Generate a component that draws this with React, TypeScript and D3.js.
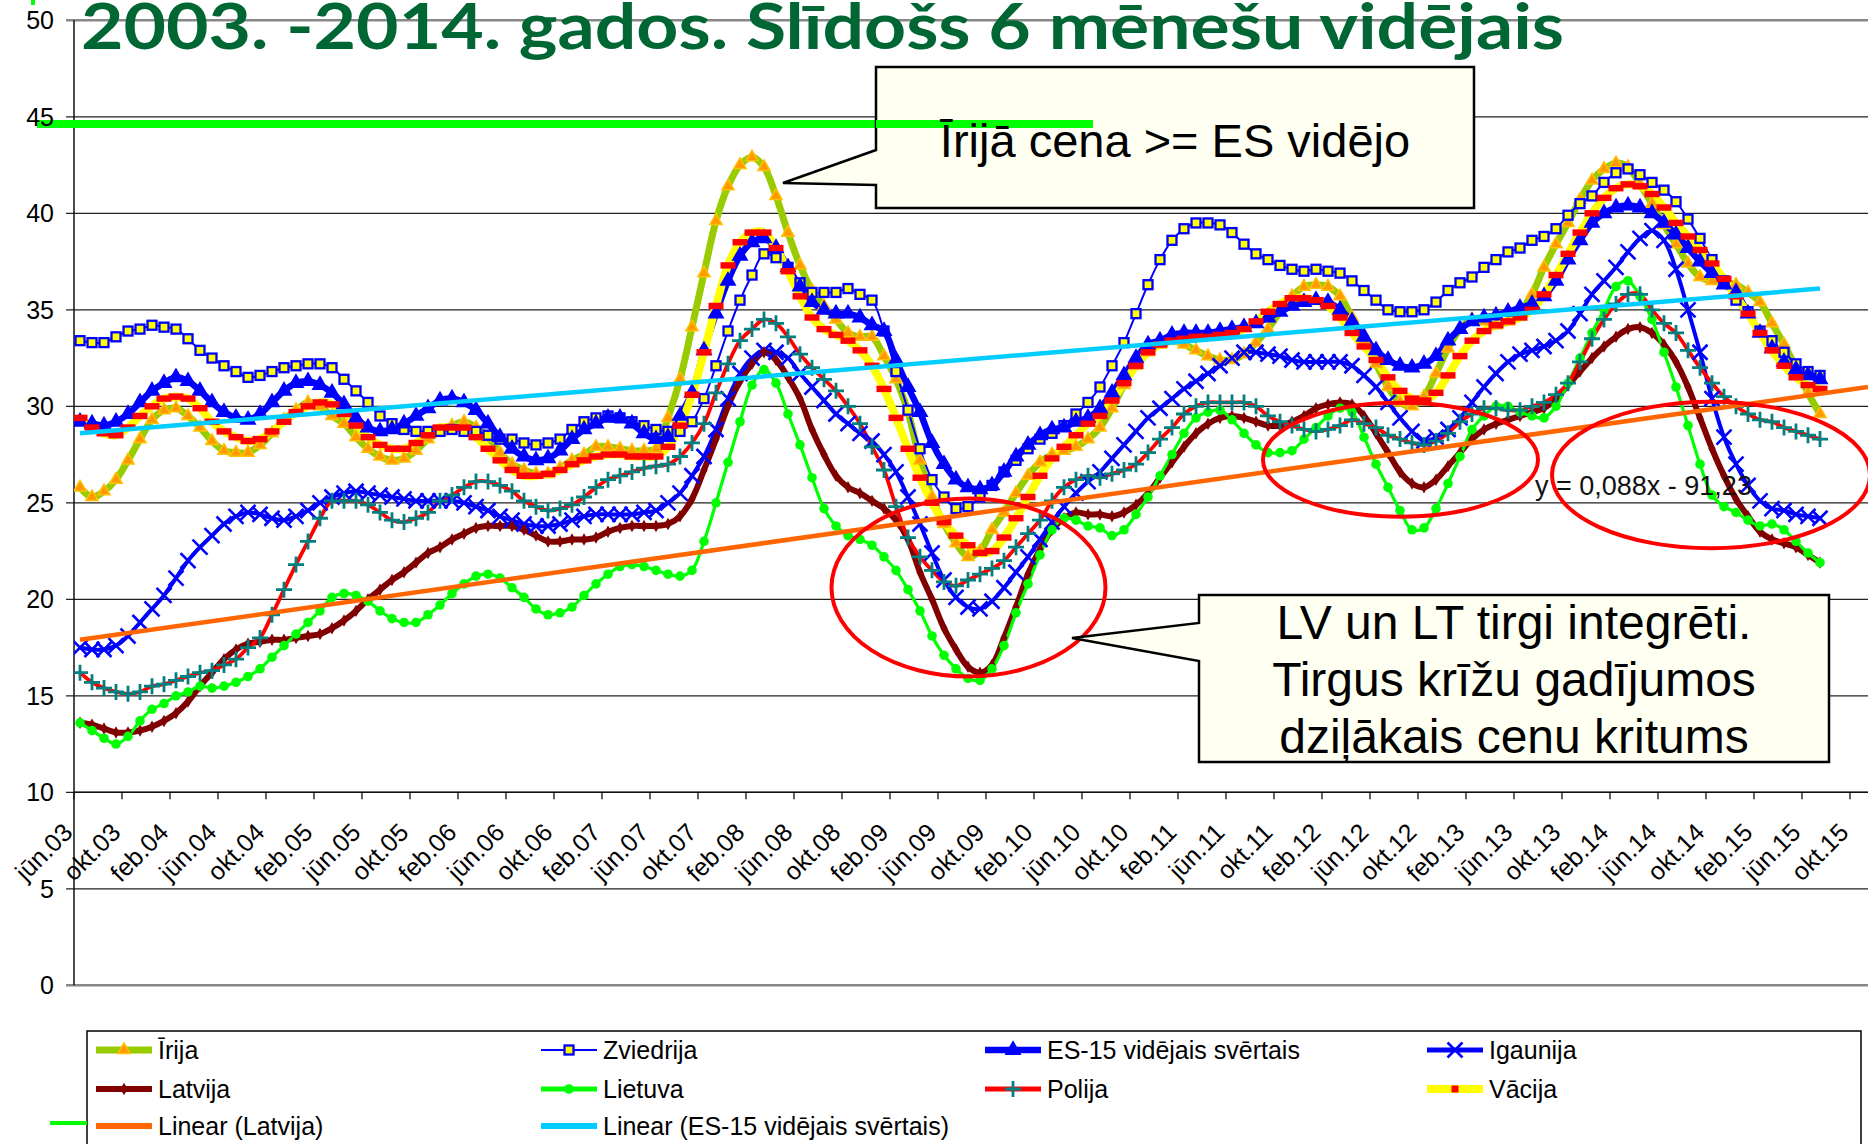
import React from 'react';
import * as d3 from 'd3';

// ---------- DATA ----------
const tickLabels = ['jūn.03','okt.03','feb.04','jūn.04','okt.04','feb.05','jūn.05','okt.05','feb.06','jūn.06','okt.06','feb.07','jūn.07','okt.07','feb.08','jūn.08','okt.08','feb.09','jūn.09','okt.09','feb.10','jūn.10','okt.10','feb.11','jūn.11','okt.11','feb.12','jūn.12','okt.12','feb.13','jūn.13','okt.13','feb.14','jūn.14','okt.14','feb.15','jūn.15','okt.15'];
const yTicks = [0, 5, 10, 15, 20, 25, 30, 35, 40, 45, 50];

const irija = [
  25.8,25.3,25.6,26.2,27.2,28.3,29.3,29.8,29.9,29.5,
  28.9,28.2,27.7,27.6,27.6,28.0,28.6,29.3,29.8,30.2,
  30.0,29.5,29.1,28.4,27.8,27.4,27.2,27.3,27.7,28.3,
  28.7,29.0,29.2,28.9,28.4,27.6,27.0,26.7,26.5,26.5,
  26.8,27.2,27.5,27.9,27.9,27.8,27.7,27.7,27.8,29.4,
  31.4,34.1,36.9,39.6,41.4,42.5,42.9,42.4,40.9,39.0,
  37.3,36.0,35.2,34.5,33.8,33.6,33.6,32.6,31.4,29.7,
  27.2,25.3,23.9,22.9,22.2,22.5,23.6,24.5,25.5,26.4,
  27.1,27.5,27.7,27.9,28.3,28.9,29.9,31.1,32.1,32.8,
  33.2,33.4,33.2,32.9,32.6,32.4,32.4,32.7,33.3,34.0,
  34.9,35.7,36.2,36.3,36.2,35.7,34.6,33.4,32.2,31.0,
  30.2,30.0,30.5,31.7,33.0,34.0,34.5,34.4,34.2,34.4,
  34.9,35.8,37.2,38.4,39.5,40.7,41.7,42.3,42.6,42.4,
  41.5,40.5,39.4,38.4,37.4,36.7,36.5,36.4,36.3,35.9,
  35.4,34.3,33.2,32.0,30.7,29.6
];
const zviedrija = [
  33.4,33.3,33.3,33.6,33.9,34.0,34.2,34.1,34.0,33.5,
  32.9,32.5,32.1,31.8,31.5,31.6,31.8,32.0,32.1,32.2,
  32.2,32.0,31.4,30.8,30.2,29.5,29.1,28.8,28.7,28.7,
  28.7,28.8,28.7,28.7,28.5,28.3,28.3,28.1,28.0,28.1,
  28.3,28.8,29.2,29.4,29.5,29.4,29.2,29.0,28.8,28.7,
  28.7,29.2,30.4,32.1,33.9,35.5,36.8,37.9,37.7,37.2,
  36.4,35.9,35.9,35.9,36.1,35.8,35.5,33.9,31.8,29.8,
  27.8,26.2,25.3,24.7,24.8,25.3,25.9,26.6,27.2,27.8,
  28.3,28.6,29.0,29.6,30.2,31.0,32.1,33.3,34.8,36.3,
  37.6,38.6,39.2,39.5,39.5,39.4,39.0,38.4,37.9,37.6,
  37.3,37.1,37.0,37.1,37.0,36.9,36.5,36.0,35.5,35.0,
  34.9,34.9,35.0,35.4,36.0,36.4,36.7,37.2,37.6,38.0,
  38.2,38.6,38.8,39.2,39.9,40.5,40.9,41.6,42.1,42.3,
  42.0,41.6,41.2,40.6,39.7,38.7,37.6,36.5,35.5,34.9,
  33.9,33.4,32.8,32.2,31.8,31.6
];
const es15 = [
  29.2,29.1,29.0,29.2,29.6,30.2,30.8,31.2,31.5,31.3,
  30.8,30.2,29.7,29.4,29.3,29.6,30.2,30.8,31.2,31.3,
  31.1,30.7,30.1,29.4,28.9,28.7,28.8,29.1,29.5,29.9,
  30.3,30.4,30.2,29.8,29.1,28.4,27.8,27.4,27.2,27.3,
  27.7,28.3,28.8,29.1,29.4,29.4,29.1,28.6,28.3,28.4,
  29.5,30.7,32.9,34.8,36.5,37.8,38.5,38.7,38.2,37.2,
  36.2,35.4,35.0,34.8,34.8,34.6,34.2,33.9,32.4,31.0,
  29.7,28.1,27.0,26.2,25.8,25.7,25.9,26.6,27.4,28.0,
  28.5,28.8,28.9,29.2,29.4,29.9,30.7,31.6,32.5,33.2,
  33.4,33.7,33.8,33.8,33.8,33.9,34.0,34.1,34.3,34.6,
  34.9,35.2,35.4,35.5,35.4,35.0,34.4,33.6,32.9,32.4,
  32.1,32.0,32.2,32.6,33.4,34.0,34.4,34.6,34.7,34.9,
  35.1,35.3,35.7,36.5,37.6,38.6,39.5,40.0,40.3,40.4,
  40.3,40.0,39.5,38.9,38.2,37.5,36.9,36.3,35.9,34.8,
  33.8,33.0,32.3,31.9,31.6,31.4
];
const igaunija = [
  17.5,17.4,17.4,17.6,18.1,18.8,19.5,20.2,21.1,22.0,
  22.7,23.3,23.9,24.3,24.5,24.4,24.2,24.1,24.3,24.6,
  25.0,25.3,25.5,25.6,25.5,25.4,25.3,25.2,25.1,25.1,
  25.1,25.1,25.0,24.8,24.6,24.3,24.1,23.9,23.8,23.8,
  23.9,24.1,24.3,24.4,24.4,24.4,24.4,24.5,24.6,25.0,
  25.5,26.4,27.4,28.8,30.4,31.7,32.5,32.9,32.8,32.5,
  31.7,31.0,30.3,29.6,29.1,28.6,28.2,27.5,26.6,25.3,
  23.9,22.4,21.0,20.1,19.6,19.5,19.9,20.6,21.4,22.2,
  23.1,24.0,24.8,25.5,26.1,26.6,27.3,28.0,28.7,29.4,
  29.9,30.4,30.9,31.3,31.7,32.1,32.5,32.8,32.8,32.7,
  32.6,32.4,32.3,32.3,32.3,32.3,32.1,31.6,31.0,30.2,
  29.4,28.7,28.2,28.4,28.8,29.4,30.2,31.0,31.7,32.3,
  32.7,32.9,33.1,33.4,33.9,34.8,35.8,36.5,37.2,38.0,
  38.7,39.1,38.6,37.1,35.0,32.8,30.4,28.4,27.0,25.9,
  25.1,24.7,24.6,24.4,24.3,24.2
];
const latvija = [
  13.6,13.5,13.3,13.1,13.1,13.2,13.4,13.7,14.1,14.7,
  15.5,16.2,16.9,17.4,17.7,17.8,17.9,17.9,18.0,18.1,
  18.2,18.5,18.9,19.4,20.0,20.5,21.0,21.4,21.9,22.4,
  22.7,23.1,23.4,23.7,23.8,23.8,23.8,23.6,23.3,23.0,
  23.0,23.1,23.1,23.2,23.5,23.7,23.8,23.8,23.8,23.9,
  24.3,25.2,26.7,28.3,30.0,31.3,32.2,32.8,32.4,31.5,
  30.4,28.8,27.5,26.4,25.8,25.5,25.1,24.7,24.1,23.1,
  21.4,20.0,18.5,17.4,16.5,16.2,16.6,18.0,19.6,21.3,
  22.6,23.6,24.2,24.5,24.4,24.4,24.3,24.5,24.9,25.5,
  26.3,27.1,27.9,28.6,29.1,29.4,29.5,29.4,29.2,29.0,
  29.0,29.2,29.5,29.9,30.1,30.2,30.1,29.5,28.6,27.6,
  26.6,26.0,25.8,26.2,26.9,27.6,28.3,28.8,29.1,29.3,
  29.5,29.7,29.9,30.4,31.1,31.8,32.5,33.1,33.6,34.0,
  34.1,33.8,33.2,32.3,31.0,29.4,27.8,26.4,25.2,24.3,
  23.5,23.1,22.9,22.7,22.3,21.9
];
const lietuva = [
  13.6,13.2,12.8,12.5,12.9,13.7,14.3,14.6,15.0,15.2,
  15.5,15.4,15.5,15.7,16.0,16.4,17.0,17.6,18.2,18.8,
  19.4,20.1,20.3,20.2,19.9,19.4,19.0,18.8,18.8,19.2,
  19.7,20.3,20.8,21.2,21.3,21.1,20.6,20.1,19.5,19.2,
  19.3,19.6,20.2,20.8,21.3,21.7,21.8,21.7,21.5,21.3,
  21.2,21.5,23.0,25.0,27.1,29.2,31.1,31.9,31.2,29.6,
  28.0,26.3,24.7,23.8,23.3,23.1,22.8,22.2,21.5,20.5,
  19.4,18.1,17.1,16.4,15.9,15.8,16.4,17.6,19.3,20.8,
  22.3,23.6,24.2,24.1,23.8,23.7,23.3,23.6,24.4,25.3,
  26.4,27.5,28.6,29.4,29.7,29.8,29.3,28.6,28.0,27.6,
  27.6,27.7,28.3,28.9,29.5,29.9,29.7,28.4,27.0,25.8,
  24.6,23.6,23.7,24.7,26.0,27.4,28.8,29.5,30.0,30.0,
  29.7,29.5,29.4,30.0,31.2,32.5,33.8,35.0,36.2,36.5,
  35.7,34.5,32.8,31.0,29.0,27.0,25.4,24.8,24.5,24.1,
  23.8,23.9,23.6,23.0,22.4,21.9
];
const polija = [
  16.2,15.7,15.4,15.2,15.1,15.2,15.5,15.6,15.8,16.0,
  16.2,16.3,16.6,16.9,17.5,18.0,19.2,20.5,21.8,23.0,
  24.2,25.1,25.1,25.1,24.9,24.5,24.1,24.0,24.2,24.5,
  25.1,25.4,25.8,26.1,26.1,25.9,25.6,25.1,24.8,24.6,
  24.7,24.9,25.3,25.8,26.2,26.4,26.6,26.8,26.9,27.0,
  27.4,28.1,29.1,30.7,32.2,33.4,34.0,34.5,34.3,33.6,
  32.7,32.0,31.4,30.8,30.0,29.1,27.9,26.7,24.8,23.2,
  22.2,21.5,20.9,20.7,21.0,21.3,21.6,22.0,22.7,23.4,
  24.1,25.1,25.8,26.2,26.4,26.3,26.5,26.7,27.0,27.6,
  28.3,28.9,29.6,30.0,30.2,30.2,30.2,30.2,30.0,29.5,
  29.2,29.0,28.8,28.7,28.8,29.0,29.3,29.1,28.9,28.5,
  28.3,28.1,28.0,28.2,28.6,29.2,29.6,29.9,29.9,29.8,
  29.8,30.0,30.2,30.6,31.2,32.3,33.5,34.5,35.3,35.8,
  35.8,35.0,34.3,33.8,32.9,32.0,31.2,30.5,30.0,29.6,
  29.3,29.2,28.9,28.7,28.5,28.3
];
const vacija = [
  29.4,28.9,28.6,28.5,28.9,29.5,30.0,30.4,30.5,30.4,
  29.9,29.2,28.7,28.4,28.2,28.3,28.7,29.2,29.7,30.0,
  30.2,30.1,29.6,29.0,28.4,28.0,27.8,27.8,28.1,28.5,
  28.9,28.9,28.9,28.4,27.8,27.2,26.7,26.4,26.4,26.5,
  26.7,27.0,27.2,27.4,27.5,27.5,27.4,27.4,27.4,27.9,
  29.0,30.6,32.8,35.2,37.3,38.5,39.0,39.0,38.2,37.0,
  35.7,34.6,34.0,33.7,33.4,32.9,32.1,30.9,29.4,27.8,
  26.3,25.0,24.0,23.3,22.8,22.4,22.5,23.2,24.2,25.3,
  26.4,27.3,27.9,28.5,29.1,29.5,30.3,31.2,32.1,32.8,
  33.2,33.4,33.5,33.6,33.6,33.7,33.8,34.0,34.4,34.9,
  35.3,35.6,35.6,35.5,35.2,34.6,33.8,33.1,32.4,31.5,
  30.8,30.4,30.3,30.7,31.6,32.6,33.4,33.9,34.2,34.4,
  34.6,35.0,35.8,36.8,37.9,39.0,40.0,40.8,41.3,41.5,
  41.4,41.0,40.3,39.5,38.8,38.1,37.4,36.6,35.7,34.8,
  33.8,32.9,32.1,31.5,31.1,30.9
];
// trend lines: [month index, value]
const trendLatvija = [[0, 17.9], [149, 31.0]];
const trendES15 = [[0, 28.6], [145, 36.1]];

// ---------- STYLE ----------
const W = 1868, H = 1144;
const ARIAL = '"Liberation Sans", Arial, sans-serif';

type Marker = 'triangle' | 'square' | 'x' | 'diamond' | 'circle' | 'plus' | 'rect';
interface Series { name: string; data: number[]; color: string; width: number; marker: Marker; mFill?: string; mStroke?: string; }

const seriesList: Series[] = [
  { name: 'Īrija', data: irija, color: '#99CC00', width: 7, marker: 'triangle', mFill: '#FF9900', mStroke: '#FFC000' },
  { name: 'Zviedrija', data: zviedrija, color: '#0000FF', width: 2, marker: 'square', mFill: '#FFFF00', mStroke: '#0000FF' },
  { name: 'ES-15 vidējais svērtais', data: es15, color: '#0000FF', width: 6.5, marker: 'triangle', mFill: '#0000FF', mStroke: '#0000FF' },
  { name: 'Igaunija', data: igaunija, color: '#0000FF', width: 4, marker: 'x', mStroke: '#0000FF' },
  { name: 'Latvija', data: latvija, color: '#800000', width: 6, marker: 'diamond', mFill: '#800000', mStroke: '#800000' },
  { name: 'Lietuva', data: lietuva, color: '#00FF00', width: 3.2, marker: 'circle', mFill: '#00FF00', mStroke: '#00FF00' },
  { name: 'Polija', data: polija, color: '#FF0000', width: 3.8, marker: 'plus', mStroke: '#008080' },
  { name: 'Vācija', data: vacija, color: '#FFFF00', width: 8, marker: 'rect', mFill: '#FF0000' },
];

function renderMarker(s: Series, cx: number, cy: number, key: string, legend = false) {
  switch (s.marker) {
    case 'triangle': {
      const big = s.name.startsWith('ES');
      const p = d3.symbol().type(d3.symbolTriangle).size(big ? 90 : 65)();
      return <path key={key} d={p as string} transform={`translate(${cx},${cy})`} fill={s.mFill} stroke={s.mStroke} strokeWidth={1.5} />;
    }
    case 'square':
      return <rect key={key} x={cx - 4.5} y={cy - 4.5} width={9} height={9} fill={s.mFill} stroke={s.mStroke} strokeWidth={2.3} />;
    case 'diamond': {
      const p = d3.symbol().type(d3.symbolDiamond).size(45)();
      return <path key={key} d={p as string} transform={`translate(${cx},${cy})`} fill={s.mFill} />;
    }
    case 'circle':
      return <circle key={key} cx={cx} cy={cy} r={4.8} fill={s.mFill} />;
    case 'x': {
      const r = 7.5;
      return <path key={key} d={`M${cx - r},${cy - r}L${cx + r},${cy + r}M${cx - r},${cy + r}L${cx + r},${cy - r}`} stroke={s.mStroke} strokeWidth={2.6} fill="none" />;
    }
    case 'plus': {
      const r = 8;
      return <path key={key} d={`M${cx - r},${cy}L${cx + r},${cy}M${cx},${cy - r}L${cx},${cy + r}`} stroke={s.mStroke} strokeWidth={2.8} fill="none" />;
    }
    case 'rect':
      return legend
        ? <rect key={key} x={cx - 3.5} y={cy - 3.5} width={7} height={7} fill={s.mFill} />
        : <rect key={key} x={cx - 7.5} y={cy - 3.2} width={15} height={6.4} fill={s.mFill} />;
  }
  return null;
}

export default function App() {
  const x = d3.scaleLinear().domain([-0.5, 149]).range([74, 1868]);
  const y = d3.scaleLinear().domain([0, 50]).range([985.3, 20.3]);
  const lineGen = d3.line<number>().x((_, i) => x(i)).y(d => y(d)).curve(d3.curveCatmullRom.alpha(0.5));
  const trendGen = d3.line<number[]>().x(d => x(d[0])).y(d => y(d[1]));

  const plotLeft = 74, plotRight = 1868;
  const axisY = y(10);

  const legendCols = [96, 541, 985, 1427];
  const legendRows = [1050, 1089, 1126];
  const legendItems: { label: string; kind: 'series' | 'trend'; s?: Series; color?: string }[] = [
    ...seriesList.map(s => ({ label: s.name, kind: 'series' as const, s })),
    { label: 'Linear (Latvija)', kind: 'trend', color: '#FF6600' },
    { label: 'Linear (ES-15 vidējais svērtais)', kind: 'trend', color: '#00CCFF' },
  ];

  return (
    <div style={{ position: 'absolute', left: 0, top: 0, width: W, height: H, background: '#fff' }}>
      <svg width={W} height={H} style={{ display: 'block' }}>
        <defs>
          <clipPath id="plot"><rect x={plotLeft} y={0} width={plotRight - plotLeft} height={1000} /></clipPath>
        </defs>
        {/* gridlines */}
        {yTicks.map(t => (
          <line key={'g' + t} x1={66} x2={plotRight} y1={y(t)} y2={y(t)}
            stroke={t === 0 || t === 50 ? '#888' : '#222'} strokeWidth={t === 0 || t === 50 ? 2.5 : 1.2} />
        ))}
        {/* y axis */}
        <line x1={plotLeft} x2={plotLeft} y1={y(50)} y2={y(0)} stroke="#111" strokeWidth={1.5} />
        {/* x axis at 10 */}
        <line x1={plotLeft} x2={plotRight} y1={axisY} y2={axisY} stroke="#111" strokeWidth={1.5} />
        {d3.range(0, 38).map(k => (
          <line key={'xt' + k} x1={x(-0.5 + 4 * k)} x2={x(-0.5 + 4 * k)} y1={axisY} y2={axisY + 7} stroke="#111" strokeWidth={1.3} />
        ))}
        {tickLabels.map((lab, k) => {
          const ax = x(4 * k) - 6, ay = 834;
          return (
            <text key={'xl' + k} x={ax} y={ay} transform={`rotate(-45,${ax},${ay})`} textAnchor="end"
              fontFamily={ARIAL} fontSize={25} fill="#000">{lab}</text>
          );
        })}
        {/* bright green line */}
        <line x1={37} x2={1093} y1={124} y2={124} stroke="#00FF00" strokeWidth={8} />
        {/* y labels */}
        {yTicks.map(t => (
          <text key={'yl' + t} x={54} y={y(t)} textAnchor="end" dominantBaseline="central"
            fontFamily={ARIAL} fontSize={25} fill="#000">{t}</text>
        ))}

        {/* series */}
        <g clipPath="url(#plot)">
          {seriesList.map(s => (
            <path key={'l' + s.name} d={lineGen(s.data) as string} fill="none" stroke={s.color}
              strokeWidth={s.width} strokeLinejoin="round" strokeLinecap="round" />
          ))}
          {seriesList.map(s => (
            <g key={'m' + s.name}>{s.data.map((v, i) => renderMarker(s, x(i), y(v), s.name + i))}</g>
          ))}
          <path d={trendGen(trendES15) as string} stroke="#00CCFF" strokeWidth={4.5} fill="none" />
          <path d={trendGen(trendLatvija) as string} stroke="#FF6600" strokeWidth={4.5} fill="none" />
        </g>

        {/* ellipses */}
        <g fill="none" stroke="#FF0000" strokeWidth={4}>
          <ellipse cx={968.5} cy={587.5} rx={137} ry={89} />
          <ellipse cx={1400.5} cy={459.7} rx={137.5} ry={57} />
          <ellipse cx={1711} cy={475} rx={159} ry={73.3} />
        </g>
        <text x={1535} y={495} fontFamily={ARIAL} fontSize={27} fill="#111">y = 0,088x - 91,23</text>

        {/* callout 1 (green line crosses the box, text on top) */}
        <path d="M876,67 H1474 V208 H876 V185 L783,183 L876,150 Z" fill="#FFFFF2" stroke="#000" strokeWidth={2.5} />
        <line x1={876} x2={1093} y1={124} y2={124} stroke="#00FF00" strokeWidth={8} />
        <text x={1175} y={157} textAnchor="middle" fontFamily={ARIAL} fontSize={47} fill="#000">Īrijā cena &gt;= ES vidējo</text>

        {/* callout 2 */}
        <path d="M1199,595 H1829 V762 H1199 V661 L1072,638 L1199,623 Z" fill="#FFFFF2" stroke="#000" strokeWidth={2.5} />
        <g fontFamily={ARIAL} fontSize={48} fill="#000" textAnchor="middle">
          <text x={1514} y={639}>LV un LT tirgi integrēti.</text>
          <text x={1514} y={696}>Tirgus krīžu gadījumos</text>
          <text x={1514} y={753}>dziļākais cenu kritums</text>
        </g>

        {/* title */}
        <text x={81} y={49} fontFamily="Lato, 'Open Sans', sans-serif" fontWeight={700} fontSize={64} fill="#006633"
          textLength={1483} lengthAdjust="spacingAndGlyphs">2003. -2014. gados. Slīdošs 6 mēnešu vidējais</text>
        <rect x={31} y={0} width={4} height={5} fill="#00FF00" />

        {/* legend */}
        <rect x={87} y={1031} width={1774} height={130} fill="#fff" stroke="#000" strokeWidth={1.5} />
        <line x1={50} x2={87} y1={1123} y2={1123} stroke="#00FF00" strokeWidth={4} />
        {legendItems.map((it, k) => {
          const cx = legendCols[k % 4], cy = legendRows[Math.floor(k / 4)];
          const lx1 = cx, lx2 = cx + 56, mid = cx + 28;
          return (
            <g key={'lg' + k}>
              {it.kind === 'series' && it.s ? (
                <>
                  <line x1={lx1} x2={lx2} y1={cy} y2={cy} stroke={it.s.color}
                    strokeWidth={it.s.name === 'Zviedrija' ? 2 : Math.max(it.s.width, 5)} />
                  {renderMarker(it.s, mid, cy, 'lm' + k, true)}
                </>
              ) : (
                <line x1={lx1} x2={lx2} y1={cy} y2={cy} stroke={it.color} strokeWidth={6} />
              )}
              <text x={cx + 62} y={cy} dominantBaseline="central" fontFamily={ARIAL} fontSize={25} fill="#000">{it.label}</text>
            </g>
          );
        })}
      </svg>
    </div>
  );
}
